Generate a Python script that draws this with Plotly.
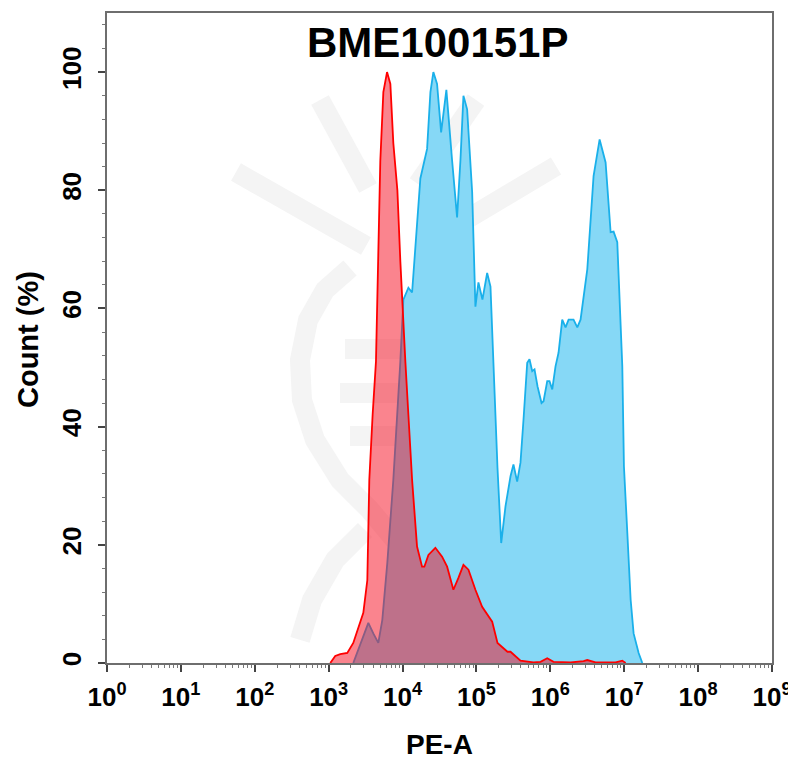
import plotly.graph_objects as go

# PE-A fluorescence, stored as log10 exponents, with count (% of max)
blue_log = [3.333, 3.401, 3.469, 3.537, 3.604, 3.672, 3.726, 3.794, 3.875, 3.943,
            3.970, 4.011, 4.079, 4.129, 4.196, 4.241, 4.332, 4.377, 4.417, 4.467,
            4.522, 4.593, 4.671, 4.738, 4.783, 4.824, 4.874, 4.942, 4.986, 5.027,
            5.081, 5.145, 5.190, 5.217, 5.235, 5.285, 5.335, 5.393, 5.461, 5.501,
            5.551, 5.596, 5.637, 5.687, 5.718, 5.755, 5.786, 5.827, 5.881, 5.908,
            5.958, 5.989, 6.026, 6.070, 6.111, 6.161, 6.206, 6.247, 6.314, 6.365,
            6.409, 6.500, 6.585, 6.667, 6.748, 6.816, 6.856, 6.906, 6.974, 6.996,
            7.042, 7.087, 7.127, 7.195, 7.245]
blue_count = [0.0, 2.2, 4.4, 6.8, 5.0, 3.4, 7.3, 17.0, 31.0, 45.0,
              51.0, 61.5, 63.5, 62.7, 74.0, 82.0, 87.0, 96.6, 100.0, 98.0,
              89.8, 97.0, 85.0, 75.4, 85.0, 96.0, 93.7, 79.7, 60.3, 64.4,
              61.5, 66.0, 63.7, 55.0, 49.7, 33.0, 20.3, 26.5, 31.6, 33.6,
              30.7, 33.9, 41.2, 50.8, 51.4, 49.4, 49.7, 46.8, 44.0, 44.3,
              47.7, 47.7, 46.3, 50.2, 52.5, 58.1, 56.8, 58.1, 58.1, 56.8,
              58.1, 66.6, 82.4, 88.6, 84.7, 72.9, 73.0, 71.2, 50.2, 33.3,
              22.0, 10.7, 5.0, 1.7, 0.0]

red_log = [3.022, 3.089, 3.157, 3.252, 3.333, 3.401, 3.469, 3.523, 3.550, 3.595,
           3.640, 3.699, 3.740, 3.790, 3.835, 3.875, 3.930, 3.970, 4.011, 4.038,
           4.079, 4.129, 4.196, 4.264, 4.295, 4.350, 4.444, 4.535, 4.603, 4.688,
           4.756, 4.824, 4.892, 4.986, 5.077, 5.163, 5.213, 5.285, 5.420, 5.461,
           5.596, 5.772, 5.867, 5.958, 6.043, 6.274, 6.450, 6.500, 6.612, 6.883,
           6.974, 7.019]
red_count = [0.0, 1.2, 1.5, 1.7, 3.4, 6.0, 8.5, 14.0, 31.0, 42.0,
             51.0, 85.0, 96.6, 100.0, 98.0, 88.0, 80.0, 68.0, 57.0, 51.0,
             42.0, 31.0, 19.7, 16.3, 16.3, 18.3, 19.5, 18.0, 16.3, 12.4,
             14.4, 16.6, 15.8, 12.4, 9.5, 7.8, 7.0, 3.4, 1.9, 1.9,
             0.4, 0.1, 0.2, 0.8, 0.2, 0.1, 0.3, 0.5, 0.1, 0.1,
             0.4, 0.0]

decades = list(range(0, 10))
tick_text = [f"10<sup>{d}</sup>" for d in decades]
y_ticks = [0, 20, 40, 60, 80, 100]

FONT = "Arial, 'Liberation Sans', sans-serif"


def px(x, y):
    """Pixel position in the 796x765 window -> paper coords of the plot area."""
    return (x - 107) / 665, (663 - y) / 650


fig = go.Figure()

# faint watermark logo behind the data
wm = "#f4f4f4"
for (x0, y0), (x1, y1) in [((320, 100), (368, 188)), ((236, 172), (366, 246)),
                           ((476, 100), (418, 184)), ((556, 166), (432, 240)),
                           ((345, 349), (448, 349)), ((340, 393), (452, 393)),
                           ((350, 436), (440, 436))]:
    a, b = px(x0, y0)
    c, d = px(x1, y1)
    fig.add_shape(type="line", xref="paper", yref="paper", x0=a, y0=b, x1=c, y1=d,
                  line=dict(color=wm, width=20), layer="below")


def path(pts):
    s = ""
    for i, (x, y) in enumerate(pts):
        a, b = px(x, y)
        s += ("M" if i == 0 else "L") + f"{a:.4f},{b:.4f} "
    return s


left_strand = [(350, 268), (325, 290), (308, 320), (300, 360), (302, 400), (315, 440),
               (340, 480), (370, 510), (395, 540)]
left_low = [(365, 530), (335, 560), (312, 600), (300, 640)]
right_strand = [(430, 250), (455, 275), (470, 310), (476, 350), (472, 400), (455, 440),
                (430, 470), (400, 500)]
for pts in (left_strand, left_low, right_strand):
    fig.add_shape(type="path", xref="paper", yref="paper", path=path(pts),
                  line=dict(color=wm, width=20), layer="below")

fig.add_trace(go.Scatter(
    x=[10 ** v for v in blue_log], y=blue_count, mode="lines",
    line=dict(color="#1ab0ea", width=1.8, shape="linear"),
    fill="tozeroy", fillcolor="#86d8f6", name="BME100151P",
))
fig.add_trace(go.Scatter(
    x=[10 ** v for v in red_log], y=red_count, mode="lines",
    line=dict(color="#ff0000", width=1.8),
    fill="tozeroy", fillcolor="rgba(245,10,30,0.5)", name="Isotype",
))

axis_line = "#6e6e6e"
fig.update_xaxes(
    type="log", range=[0, 9], showgrid=False, zeroline=False, automargin=False,
    showline=True, linecolor=axis_line, linewidth=1.5, mirror=True,
    tickvals=[10 ** d for d in decades], ticktext=tick_text,
    ticks="outside", ticklen=7, tickwidth=1.5, tickcolor="#444",
    ticklabelstandoff=3,
    tickfont=dict(family=FONT, size=26, color="black", weight="bold"),
    minor=dict(ticks="outside", ticklen=3, tickwidth=1, tickcolor="#777",
               dtick="D1", showgrid=False),
)
fig.update_yaxes(
    range=[0, 110], showgrid=False, zeroline=False, automargin=False,
    showline=True, linecolor=axis_line, linewidth=1.5, mirror=True,
    tickvals=y_ticks, tickangle=-90,
    ticks="outside", ticklen=7, tickwidth=1.5, tickcolor="#444",
    ticklabelstandoff=7,
    tickfont=dict(family=FONT, size=26, color="black", weight="bold"),
    minor=dict(ticks="outside", ticklen=3, tickwidth=1, tickcolor="#777",
               dtick=4, showgrid=False),
)

fig.add_annotation(text="<b>BME100151P</b>", xref="paper", yref="paper",
                   x=0.498, y=(663 - 42) / 650, xanchor="center", yanchor="middle",
                   showarrow=False, font=dict(family=FONT, size=42, color="black"))
fig.add_annotation(text="<b>PE-A</b>", xref="paper", yref="paper",
                   x=0.5, y=(663 - 745) / 650, xanchor="center", yanchor="middle",
                   showarrow=False, font=dict(family=FONT, size=28, color="black"))
fig.add_annotation(text="<b>Count (%)</b>", xref="paper", yref="paper",
                   x=(28 - 107) / 665, y=(663 - 340) / 650, textangle=-90,
                   xanchor="center", yanchor="middle",
                   showarrow=False, font=dict(family=FONT, size=29, color="black"))

# the page body adds an 8 px offset, so the figure is 8 px smaller on each axis
fig.update_layout(
    width=788, height=757,
    margin=dict(l=99, r=24, t=5, b=102),
    paper_bgcolor="white", plot_bgcolor="white",
    showlegend=False,
)

fig.write_html("out.html")
